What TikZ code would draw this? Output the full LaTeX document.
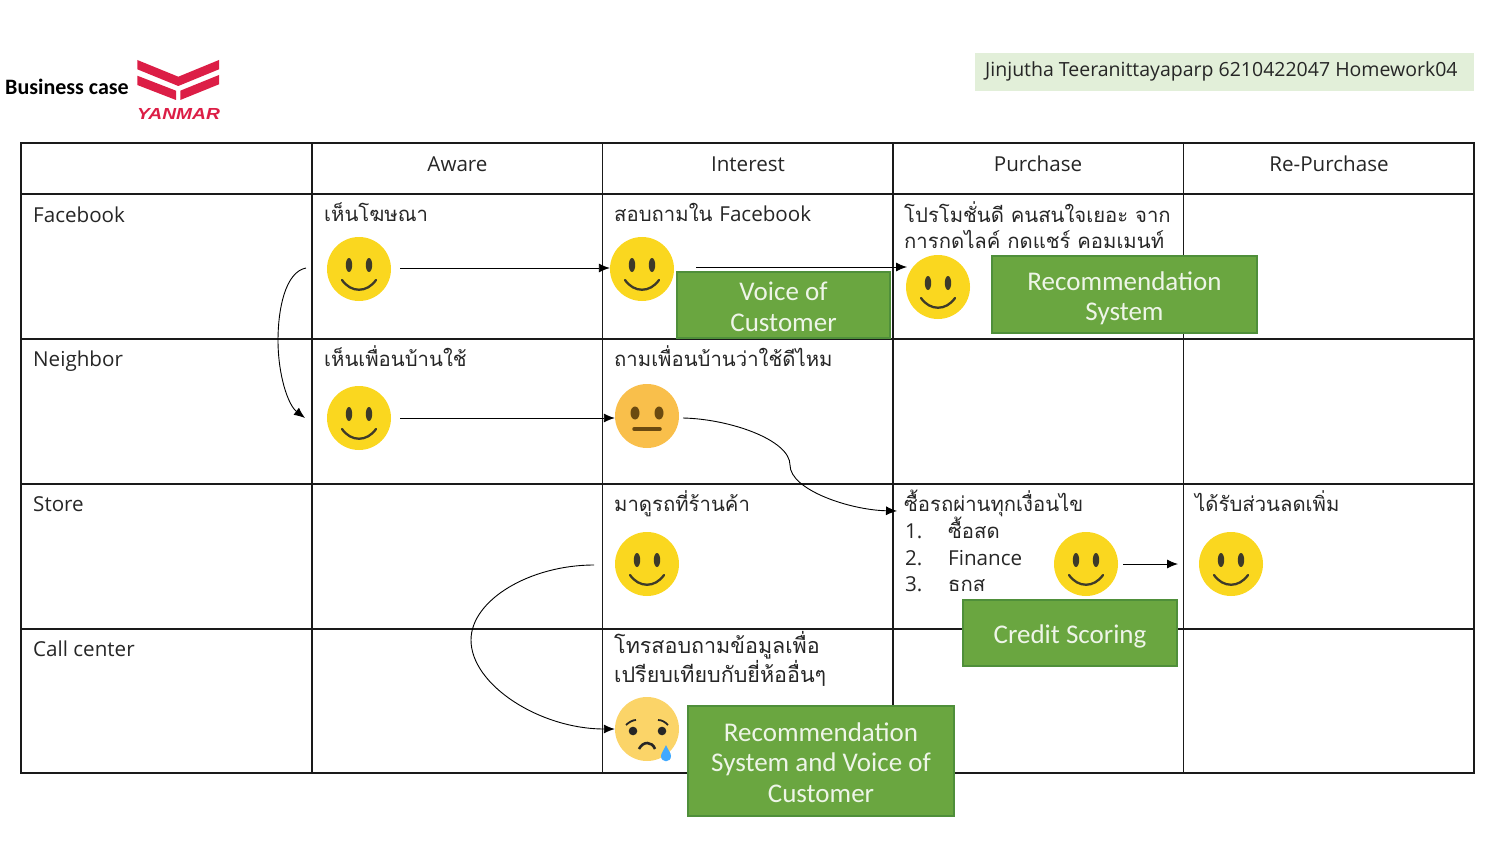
\documentclass[tikz,border=0pt]{standalone}
\usepackage{fontspec}
\setmainfont{Open Sans}
\newfontfamily\thf[Script=Thai]{Loma}
\newfontfamily\carl{Carlito}
\newfontfamily\lib{Liberation Sans}
\usetikzlibrary{arrows.meta}
\definecolor{inkc}{HTML}{262626}
\definecolor{gridc}{HTML}{1A1A1A}
\definecolor{smilec}{HTML}{FAD71F}
\definecolor{neutc}{HTML}{F9BF4B}
\definecolor{sadc}{HTML}{FBD468}
\definecolor{featc}{HTML}{3D3A2A}
\definecolor{neutf}{HTML}{6B4A10}
\definecolor{greenf}{HTML}{6AA640}
\definecolor{greenb}{HTML}{4F8F3A}
\definecolor{hdrc}{HTML}{E2EFD9}
\definecolor{yanc}{HTML}{DC1E46}
\tikzset{
 grid/.style={draw=gridc,line width=1.5pt},
 cellhead/.style={inner sep=0pt,anchor=base,font=\fontsize{20.6}{26}\selectfont,text=inkc},
 celltext/.style={inner sep=0pt,anchor=base west,align=left,font=\fontsize{20.6}{26}\selectfont,text=inkc},
 thaitext/.style={celltext,font=\fontsize{20.3}{26}\selectfont\thf},
 face/.style={circle,inner sep=0pt,minimum size=64pt},
 gbox/.style={draw=greenb,fill=greenf,line width=1.2pt,inner sep=0pt,align=center,text=hdrc!60!white,font=\fontsize{27}{30.5}\selectfont\carl},
 arr/.style={draw=black,line width=0.9pt,-{Latex[length=11pt,width=9pt]}},
}
\newcommand{\gpad}{\rule{0pt}{26pt}}
\newcommand{\gpadb}{\rule{0pt}{22pt}}
\newcommand{\happy}[3]{%
 \node[face,fill=smilec] (#1) at (#2,#3) {};
 \fill[featc] (#2-10,#3-4) ellipse [x radius=3.2,y radius=7];
 \fill[featc] (#2+10,#3-4) ellipse [x radius=3.2,y radius=7];
 \draw[featc,line width=2.3pt,line cap=round] (#2-17,#3+11) .. controls (#2-8,#3+24) and (#2+8,#3+24) .. (#2+17,#3+11);
}
\begin{document}
\begin{tikzpicture}[x=1pt,y=-1pt]
\useasboundingbox (0,0) rectangle (1503,842);
% header
\node[inner sep=0pt,anchor=base west,font=\fontsize{22}{26}\selectfont\bfseries\carl,text=black] (biz) at (5,94.5) {Business case};
\node[draw=none,fill=hdrc,minimum width=499pt,minimum height=38pt,inner sep=0pt,anchor=north west] (hdr) at (975,53) {};
\node[inner sep=0pt,anchor=base west,font=\fontsize{19.5}{24}\selectfont,text=inkc] (hdrtext) at (985,77) {Jinjutha Teeranittayaparp 6210422047 Homework04};
% logo
\fill[yanc] (137.3,60) -- (178.3,76.7) -- (219,60) -- (219,69.3) -- (178.3,86) -- (137.3,69.3) -- cycle;
\fill[yanc] (137.3,75.7) -- (176,90.7) -- (176,100) -- (137.3,85) -- cycle;
\fill[yanc] (180.3,90.7) -- (219,75) -- (219,84.3) -- (180.3,100) -- cycle;
\node[inner sep=0pt,anchor=base,text=yanc,font=\fontsize{16}{18}\selectfont\lib\bfseries\itshape,xscale=1.2] (yan) at (178.5,119.5) {YANMAR};
% table
\draw[grid] (21,143) rectangle (1474,773);
\foreach \yy in {194,339,484,629} \draw[grid] (21,\yy) -- (1474,\yy);
\foreach \xx in {312,602.5,893,1183.5} \draw[grid] (\xx,143) -- (\xx,773);
% column heads
\node[cellhead] (h1) at (457.5,171.5) {Aware};
\node[cellhead] (h2) at (748,171.5) {Interest};
\node[cellhead] (h3) at (1038,171.5) {Purchase};
\node[cellhead] (h4) at (1329,171.5) {Re-Purchase};
% rows
\node[celltext] (r1) at (33,222.5) {Facebook};
\node[celltext] (r2) at (33,366.5) {Neighbor};
\node[celltext] (r3) at (33,511.5) {Store};
\node[celltext] (r4) at (33,656.5) {Call center};
% cells
\node[thaitext] (c11) at (324,222) {เห็นโฆษณา};
\node[thaitext] (c12) at (614,222) {สอบถามใน {\fontsize{20.6}{26}\selectfont\rmfamily Facebook}};
\node[thaitext] (c13) at (904,248) {โปรโมชั่นดี คนสนใจเยอะ จาก\\การกดไลค์ กดแชร์ คอมเมนท์};
\node[thaitext] (c21) at (324,366) {เห็นเพื่อนบ้านใช้};
\node[thaitext] (c22) at (614,366) {ถามเพื่อนบ้านว่าใช้ดีไหม};
\node[thaitext] (c32) at (614,511) {มาดูรถที่ร้านค้า};
\node[thaitext] (c33) at (904,511) {ซื้อรถผ่านทุกเงื่อนไข};
\node[celltext] (n1) at (905,538) {1.};
\node[thaitext] (t1) at (948,538) {ซื้อสด};
\node[celltext] (n2) at (905,565) {2.};
\node[celltext] (t2) at (948,565) {Finance};
\node[celltext] (n3) at (905,591) {3.};
\node[thaitext] (t3) at (948,591) {ธกส};
\node[thaitext] (c34) at (1195,511) {ได้รับส่วนลดเพิ่ม};
\node[thaitext,font=\fontsize{21.5}{26}\selectfont\thf] (c42) at (614,682) {โทรสอบถามข้อมูลเพื่อ\\เปรียบเทียบกับยี่ห้ออื่นๆ};
% faces
\happy{s11}{359}{269}
\happy{s12}{642}{269}
\happy{s13}{938}{287}
\happy{s21}{359}{418}
\happy{s32}{647}{564}
\happy{s33}{1086}{564}
\happy{s34}{1231}{564}
% neutral
\node[face,fill=neutc] (s22) at (647,416) {};
\fill[neutf] (635,413) ellipse [x radius=4.5,y radius=6.5];
\fill[neutf] (659,413) ellipse [x radius=4.5,y radius=6.5];
\draw[neutf,line width=3.5pt,line cap=round] (634,429) -- (660,429);
% sad
\node[face,fill=sadc] (s42) at (647,729) {};
\fill[black!85] (633,731) circle (4.3);
\fill[black!85] (662,731) circle (4.3);
\draw[black!85,line width=1.8pt] (626,725) .. controls (629,722) and (633,720) .. (636,720);
\draw[black!85,line width=1.8pt] (658,720) .. controls (662,720) and (665,722) .. (668,725);
\draw[black!85,line width=2.6pt] (639,749) .. controls (643,741) and (652,741) .. (655,749);
\fill[blue!45!cyan!75!white] (666,745) .. controls (668,750) and (671,753) .. (671,756) .. controls (671,763) and (661,763) .. (661,756) .. controls (661,753) and (664,750) .. (666,745) -- cycle;
% free ends of connectors
\coordinate (a0) at (696,267);
\coordinate (a1) at (907,267);
\coordinate (b0) at (306,268);
\coordinate (b1) at (305,418);
\coordinate (c0) at (683,418);
\coordinate (c1) at (897,511);
\coordinate (d0) at (594,565);
\coordinate (e1) at (1178,564);
% connectors
\draw[arr,shorten <=9pt] ([yshift=1pt]s11.east) -- ([yshift=1pt]s12.west);
\draw[arr,shorten <=9pt] (s21.east) -- (s21.east -| s22.west);
\draw[arr] (a0) -- (a1);
\draw[arr] (b0) .. controls (285,272) and (278,310) .. (278,340) .. controls (278,375) and (288,405) .. (b1);
\draw[arr] (c0) .. controls (730,419) and (790,440) .. (790,465) .. controls (790,490) and (850,510) .. (c1);
\draw[arr] (d0) .. controls (530,565) and (471,600) .. (471,640) .. controls (471,685) and (540,729) .. (s42.west);
\draw[arr,shorten <=5pt] (s33.east) -- (e1);
% green boxes
\node[gbox,minimum width=213pt,minimum height=66pt] (voc) at (783.5,305) {\gpadb Voice of\\Customer};
\node[gbox,minimum width=265pt,minimum height=77pt] (rec) at (1124.5,294.5) {\gpad Recommendation\\System};
\node[gbox,minimum width=214pt,minimum height=66pt] (cred) at (1070,633) {\gpad Credit Scoring};
\node[gbox,minimum width=266pt,minimum height=110pt] (recv) at (821,761) {\gpadb Recommendation\\System and Voice of\\Customer};
\end{tikzpicture}
\end{document}
